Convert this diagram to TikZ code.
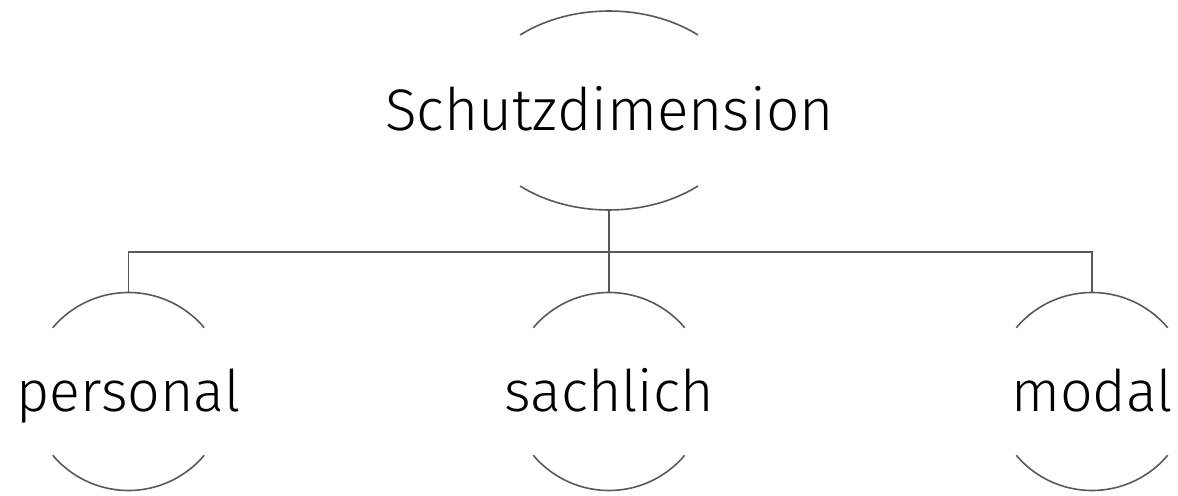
\documentclass[tikz,border=0pt]{standalone}
\usepackage{fontspec}
\setmainfont{Fira Sans}[UprightFont={* Light}]
\begin{document}
\begin{tikzpicture}[x=0.75pt,y=0.75pt,
  arcline/.style={draw=black!65,line width=1.2pt},
  conn/.style={draw=black!65,line width=1.2pt},
  toplabel/.style={anchor=base,inner sep=0pt,font=\fontsize{44}{50}\selectfont},
  leaflabel/.style={anchor=base,inner sep=0pt,font=\fontsize{43}{50}\selectfont}]
\useasboundingbox (0,0) rectangle (1178,496);
% root
\coordinate (rc) at (609,385.5);
\node[toplabel] (root) at (609.5,365.3) {Schutzdimension};
\draw[arcline] ([shift={(130.6:136.6 and 99.5)}]rc) arc[start angle=130.6,end angle=49.4,x radius=136.6,y radius=99.5];
\draw[arcline] ([shift={(229.4:136.6 and 99.5)}]rc) arc[start angle=229.4,end angle=310.6,x radius=136.6,y radius=99.5];
\coordinate (rs) at (609,286);
% leaves
\foreach \n/\x/\t in {p/128.5/personal, s/609/sachlich, m/1092/modal}{
  \coordinate (\n c) at (\x,104.5);
  \coordinate (\n n) at (\x,203.5);
  \node[leaflabel] (\n) at (\x,84.3) {\t};
  \draw[arcline] ([shift={(139.9:99)}]\n c) arc[start angle=139.9,end angle=40.1,radius=99];
  \draw[arcline] ([shift={(220.1:99)}]\n c) arc[start angle=220.1,end angle=319.9,radius=99];
}
% connectors
\coordinate (bar) at (609,244);
\draw[conn] (rs) -- (sn);
\draw[conn] (pn) |- (bar) -| (mn);
\end{tikzpicture}
\end{document}
